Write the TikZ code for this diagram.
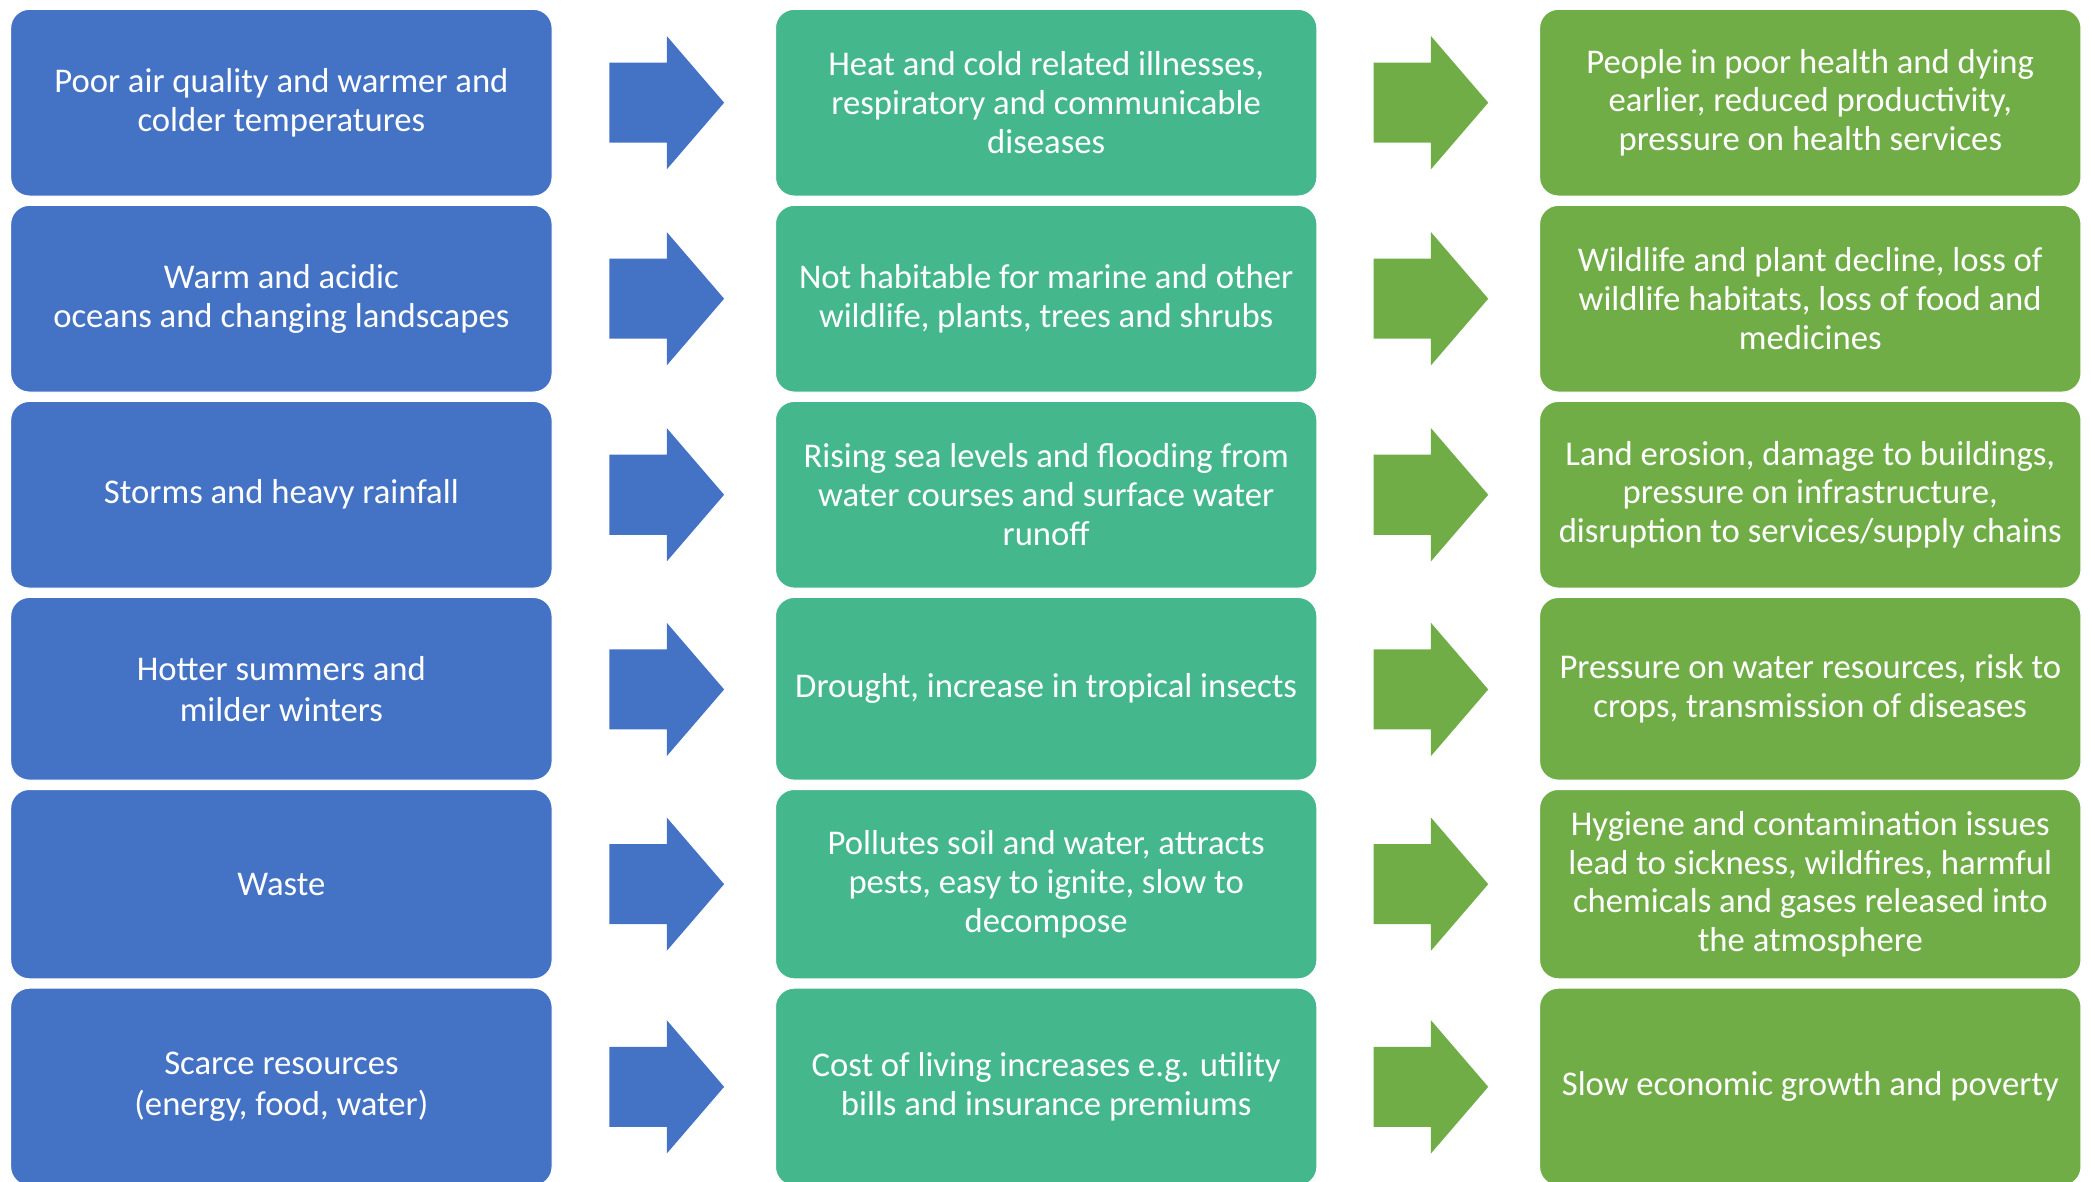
\documentclass[tikz,border=0pt]{standalone}
\usepackage{fontspec}
\setmainfont{Carlito}
\definecolor{cblue}{HTML}{4472C4}
\definecolor{cteal}{HTML}{44B88C}
\definecolor{cgreen}{HTML}{70AD47}
\tikzset{
  cell/.style={rounded corners=14pt, minimum width=406pt, minimum height=140pt,
    inner sep=0pt, text=white, align=center, draw=white, line width=0.8pt,
    font=\fontsize{26}{29}\selectfont},
  causebox/.style={cell, fill=cblue},
  effectbox/.style={cell, fill=cteal},
  impactbox/.style={cell, fill=cgreen},
  pics/blockarrow/.style={code={
    \fill[#1] (0,-30) -- (43,-30) -- (43,-50) -- (86,0) -- (43,50) -- (43,30) -- (0,30) -- cycle;
  }}
}
\begin{document}
\begin{tikzpicture}[x=1pt,y=-1pt]
\useasboundingbox (0,0) rectangle (1568,886);
% row 1
\node[causebox]  (c1) at (211,77) {Poor air quality and warmer and\\colder temperatures};
\node[effectbox] (e1) at (784.5,77) {Heat and cold related illnesses,\\respiratory and communicable\\diseases};
\node[impactbox] (i1) at (1357.5,77) {People in poor health and dying\\earlier, reduced productivity,\\pressure on health services};
% row 2
\node[causebox]  (c2) at (211,224) {Warm and acidic\\oceans and changing landscapes};
\node[effectbox] (e2) at (784.5,224) {Not habitable for marine and other\\wildlife, plants, trees and shrubs};
\node[impactbox] (i2) at (1357.5,224) {Wildlife and plant decline, loss of\\wildlife habitats, loss of food and\\medicines};
% row 3
\node[causebox]  (c3) at (211,371) {Storms and heavy rainfall};
\node[effectbox] (e3) at (784.5,371) {Rising sea levels and flooding from\\water courses and surface water\\runoff};
\node[impactbox] (i3) at (1357.5,371) {Land erosion, damage to buildings,\\pressure on infrastructure,\\disruption to services/supply chains};
% row 4
\node[causebox, minimum height=137pt, font=\fontsize{26}{31}\selectfont]  (c4) at (211,516.5) {Hotter summers and\\milder winters};
\node[effectbox, minimum height=137pt] (e4) at (784.5,516.5) {Drought, increase in tropical insects};
\node[impactbox, minimum height=137pt] (i4) at (1357.5,516.5) {Pressure on water resources, risk to\\crops, transmission of diseases};
% row 5
\node[causebox, minimum height=142pt]  (c5) at (211,663) {Waste};
\node[effectbox, minimum height=142pt] (e5) at (784.5,663) {Pollutes soil and water, attracts\\pests, easy to ignite, slow to\\decompose};
\node[impactbox, minimum height=142pt] (i5) at (1357.5,663) {Hygiene and contamination issues\\lead to sickness, wildfires, harmful\\chemicals and gases released into\\the atmosphere};
% row 6
\node[causebox, minimum height=148pt, font=\fontsize{26}{31}\selectfont]  (c6) at (211,815) {Scarce resources\\(energy, food, water)};
\node[effectbox, minimum height=148pt] (e6) at (784.5,815) {Cost of living increases e.g. utility\\bills and insurance premiums};
\node[impactbox, minimum height=148pt] (i6) at (1357.5,815) {Slow economic growth and poverty};
% arrows
\foreach \y in {77,224,371,517,663,815}{
  \pic at (457,\y) {blockarrow=cblue};
  \pic at (1030,\y) {blockarrow=cgreen};
}
\end{tikzpicture}
\end{document}
